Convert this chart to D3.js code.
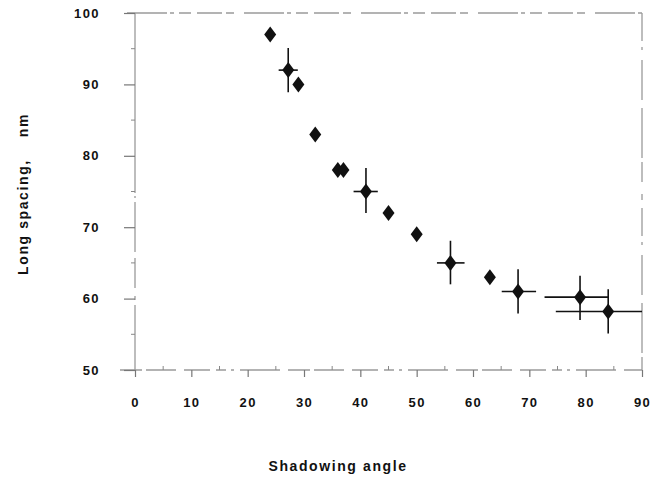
<!DOCTYPE html>
<html lang="en">
<head>
    <meta charset="UTF-8">
    <title>Long spacing vs shadowing angle</title>
    <script src="https://d3js.org/d3.v7.min.js"></script>
    <style>
        body { margin: 0; background: #fff; }
        text { font-family: "Liberation Sans", Arial, sans-serif; font-weight: bold; fill: #111; }
    </style>
</head>
<body>
    <svg width="660" height="478"></svg>

    <script>
        // shadowing angle (deg) and long spacing (nm)
        var angle   = [24, 27.2, 29, 32, 36, 37, 41, 45, 50, 56, 63, 68, 79, 84];
        var spacing = [97, 92, 90, 83, 78, 78, 75, 72, 69, 65, 63, 61, 60.2, 58.2];
        // error bars (null = none)
        var yLo = [null, 88.9, null, null, null, null, 72.0, null, null, 62.0, null, 57.9, 57.0, 55.1];
        var yHi = [null, 95.1, null, null, null, null, 78.3, null, null, 68.1, null, 64.1, 63.2, 61.3];
        var xLo = [null, 25.5, null, null, null, null, 38.8, null, null, 53.6, null, 65.1, 72.7, 74.7];
        var xHi = [null, 28.9, null, null, null, null, 43.1, null, null, 58.5, null, 71.2, 84.1, 90.0];

        var xTicks = [0, 10, 20, 30, 40, 50, 60, 70, 80, 90];
        var yTicks = [50, 60, 70, 80, 90, 100];

        var svg = d3.select("svg");
        var pLeft = 135, pRight = 642, pTop = 13, pBottom = 370;

        var x = d3.scaleLinear().domain([0, 90]).range([pLeft, pRight]);
        var y = d3.scaleLinear().domain([50, 100]).range([pBottom, pTop]);

        var pts = angle.map(function (a, i) {
            return { x: a, y: spacing[i], yLo: yLo[i], yHi: yHi[i], xLo: xLo[i], xHi: xHi[i] };
        });

        // frame, looks like a scanned plot
        var frame = svg.append("g").attr("fill", "none").attr("stroke", "#9a9a9a").attr("stroke-width", 1.3);
        frame.append("line").attr("x1", pLeft - 8).attr("x2", pRight).attr("y1", pTop).attr("y2", pTop)
            .attr("stroke-dasharray", "40,3,4,5,12,6,25,4,8,10");
        frame.append("line").attr("x1", pRight).attr("x2", pRight).attr("y1", pTop).attr("y2", pBottom)
            .attr("stroke-dasharray", "28,6,3,10,40,8,50,4,20,12,6,8");
        frame.append("line").attr("x1", pLeft).attr("x2", pLeft).attr("y1", pTop).attr("y2", pBottom)
            .attr("stroke-dasharray", "180,3,2,4,50,6,30,8,4,5");
        frame.append("line").attr("x1", pLeft - 15).attr("x2", pRight).attr("y1", pBottom).attr("y2", pBottom)
            .attr("stroke-dasharray", "22,4,30,8,26,6,10,5,3,6,40,8");

        // y ticks
        var yAxis = d3.axisLeft(y).tickValues(yTicks).tickSize(11).tickPadding(24);
        var gy = svg.append("g").attr("transform", "translate(" + pLeft + ",0)").call(yAxis);
        gy.select(".domain").remove();
        gy.selectAll(".tick line").attr("stroke", "#777").attr("stroke-width", 1.2);
        gy.selectAll(".tick text").style("font-size", "13px").style("letter-spacing", "1.4px")
            .attr("text-anchor", "end");
        svg.append("g").selectAll("line")
            .data(d3.range(55, 100, 10))
            .join("line")
            .attr("x1", pLeft - 4).attr("x2", pLeft)
            .attr("y1", function (d) { return y(d); }).attr("y2", function (d) { return y(d); })
            .attr("stroke", "#888").attr("stroke-width", 1);

        // x ticks
        var xAxis = d3.axisBottom(x).tickValues(xTicks).tickSize(7).tickPadding(21);
        var gx = svg.append("g").attr("transform", "translate(0," + pBottom + ")").call(xAxis);
        gx.select(".domain").remove();
        gx.selectAll(".tick line").attr("stroke", "#777").attr("stroke-width", 1.2);
        gx.selectAll(".tick text").style("font-size", "13px").style("letter-spacing", "1.4px");
        svg.append("g").selectAll("line")
            .data(d3.range(5, 90, 10))
            .join("line")
            .attr("x1", function (d) { return x(d); }).attr("x2", function (d) { return x(d); })
            .attr("y1", pBottom - 4).attr("y2", pBottom)
            .attr("stroke", "#888").attr("stroke-width", 1);

        // error bars
        var eb = svg.append("g").attr("stroke", "#111").attr("stroke-width", 1.6);
        eb.selectAll("line.v")
            .data(pts.filter(function (d) { return d.yLo != null; }))
            .join("line").attr("class", "v")
            .attr("x1", function (d) { return x(d.x); }).attr("x2", function (d) { return x(d.x); })
            .attr("y1", function (d) { return y(d.yLo); }).attr("y2", function (d) { return y(d.yHi); });
        eb.selectAll("line.h")
            .data(pts.filter(function (d) { return d.xLo != null; }))
            .join("line").attr("class", "h")
            .attr("x1", function (d) { return x(d.xLo); }).attr("x2", function (d) { return x(d.xHi); })
            .attr("y1", function (d) { return y(d.y); }).attr("y2", function (d) { return y(d.y); });

        // diamonds
        var dw = 6, dh = 8;
        svg.append("g").selectAll("path")
            .data(pts)
            .join("path")
            .attr("d", "M0," + (-dh) + "L" + dw + ",0L0," + dh + "L" + (-dw) + ",0Z")
            .attr("transform", function (d) { return "translate(" + x(d.x) + "," + y(d.y) + ")"; })
            .attr("fill", "#111");

        // axis titles
        svg.append("text")
            .attr("x", 338).attr("y", 471)
            .attr("text-anchor", "middle")
            .style("font-size", "14px").style("letter-spacing", "1.6px")
            .text("Shadowing angle");

        svg.append("text")
            .attr("transform", "translate(28,194) rotate(-90)")
            .attr("text-anchor", "middle")
            .style("font-size", "14px").style("letter-spacing", "1.6px")
            .style("white-space", "pre")
            .text("Long spacing,    nm");
    </script>
</body>
</html>
